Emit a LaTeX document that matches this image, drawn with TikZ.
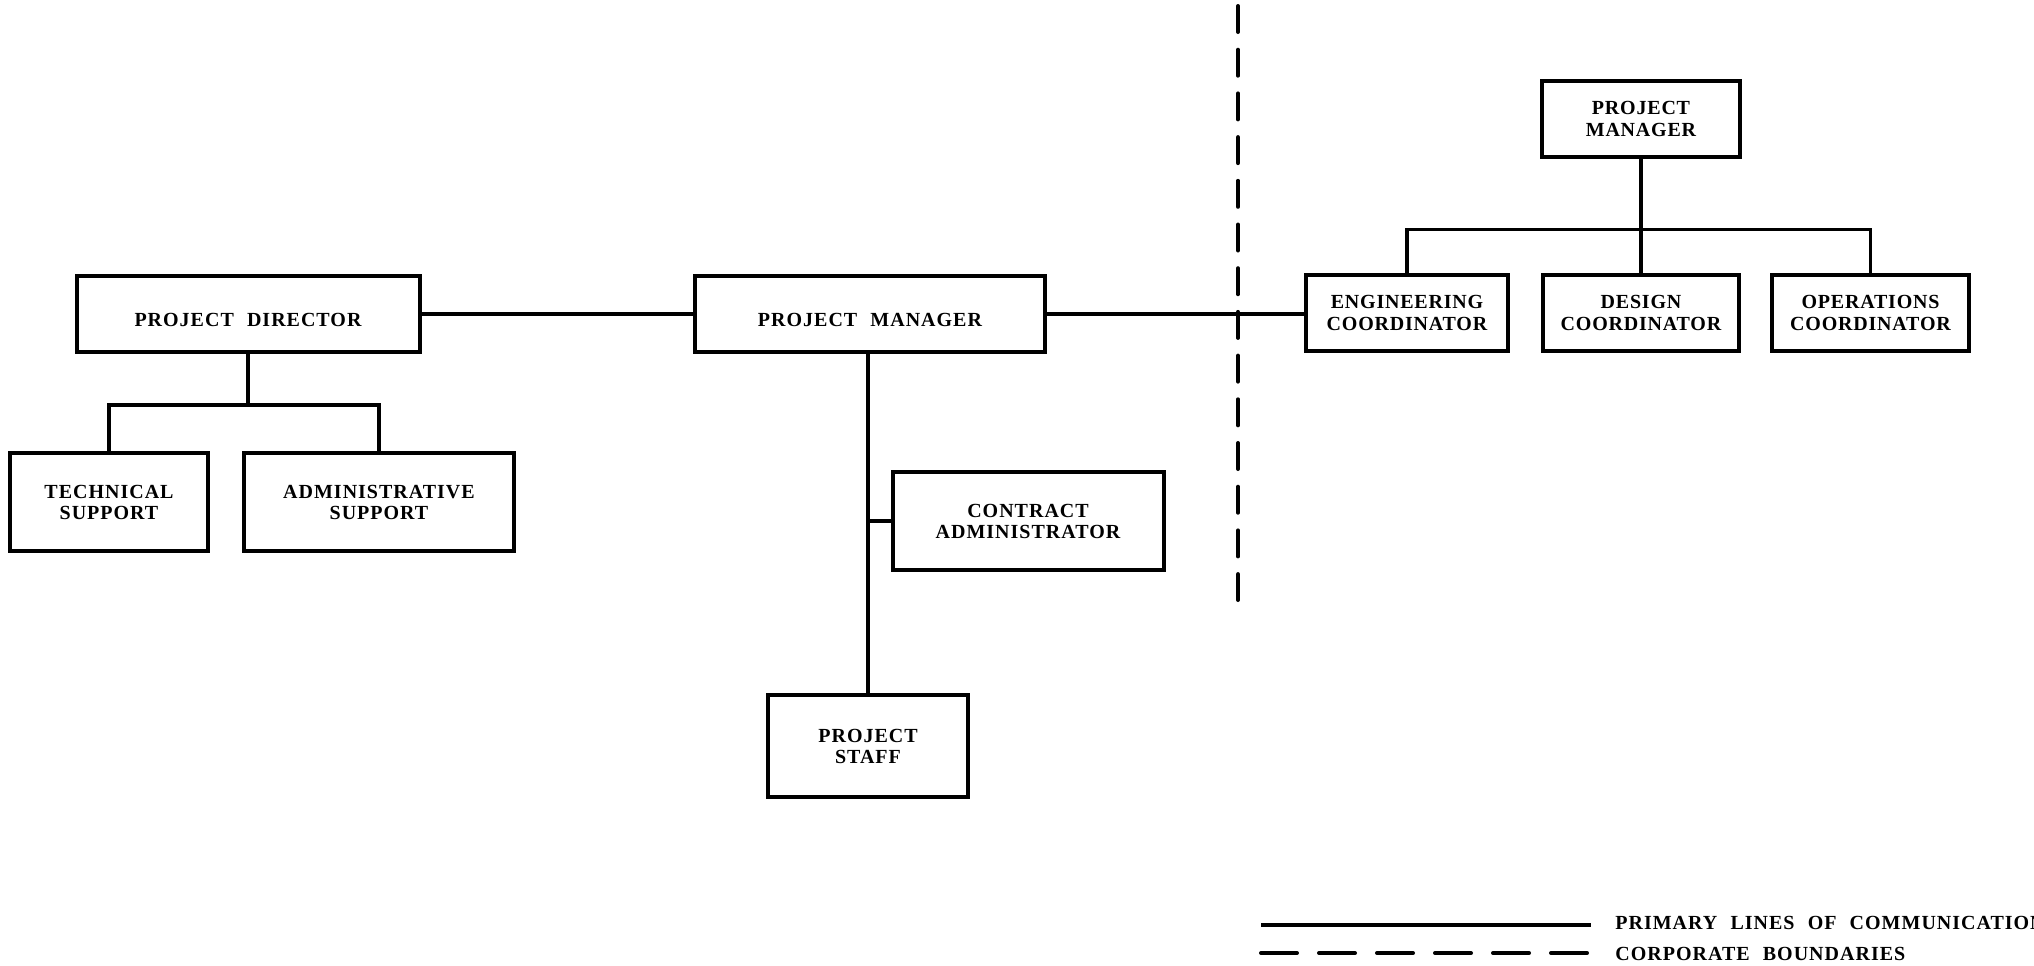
\documentclass[tikz,border=0pt]{standalone}
\usepackage{fontspec}
\setmainfont{Liberation Serif}
% wide, letter-spaced caps for the main chart; slightly tighter caps for the partner side
\newfontfamily\widefont[LetterSpace=5,WordSpace=2.2]{Liberation Serif}
\newfontfamily\tightfont[LetterSpace=4]{Liberation Serif}
\begin{document}
\begin{tikzpicture}[x=0.5pt,y=-0.5pt,
  box/.style={draw, line width=2pt, inner sep=0pt, align=center,
    font=\widefont\bfseries\fontsize{10}{10.5}\selectfont},
  onebox/.style={box, text height=12.6pt, text depth=0pt},
  rbox/.style={box, font=\tightfont\bfseries\fontsize{10}{11}\selectfont},
  link/.style={line width=1.8pt},
  boundary/.style={line width=2pt, line cap=round, dash pattern=on 13pt off 8.85pt},
  keydash/.style={line width=2pt, line cap=round, dash pattern=on 18pt off 11pt},
  keytext/.style={inner sep=0pt, anchor=base west,
    font=\widefont\bfseries\fontsize{10}{11}\selectfont}]

\fill[white] (0,0) rectangle (2034,965);
\useasboundingbox (0,0) rectangle (2034,965);

% owner organisation
\node[onebox, minimum width=171.5pt, minimum height=37.75pt] (pd) at (248,314) {PROJECT DIRECTOR};
\node[box, minimum width=98.75pt, minimum height=49pt] (ts) at (109,502) {TECHNICAL\\SUPPORT};
\node[box, minimum width=135pt, minimum height=49pt] (as) at (379,502) {ADMINISTRATIVE\\SUPPORT};
\node[onebox, minimum width=175pt, minimum height=37.75pt] (pm) at (870,314) {PROJECT MANAGER};
\node[box, minimum width=135.5pt, minimum height=48.75pt] (ca) at (1028,521) {CONTRACT\\ADMINISTRATOR};
\node[box, minimum width=100pt, minimum height=50.75pt] (ps) at (868,746) {PROJECT\\STAFF};

% contractor organisation
\node[rbox, minimum width=98.7pt, minimum height=38.3pt] (pmr) at (1641,119) {PROJECT\\MANAGER};
\node[rbox, minimum width=101pt, minimum height=38pt] (ec) at (1407,313) {ENGINEERING\\COORDINATOR};
\node[rbox, minimum width=98pt, minimum height=38pt] (dc) at (1641,313) {DESIGN\\COORDINATOR};
\node[rbox, minimum width=98.5pt, minimum height=38pt] (oc) at (1870.5,313) {OPERATIONS\\COORDINATOR};

% lines of communication
\coordinate (pdbus) at (248,405);
\coordinate (rbus) at (1641,229.6);
\draw[link] (pd.east) -- (pm.west);
\draw[link] (pm.east) -- (pm.east -| ec.west);
\draw[link] (pd.south) -- (pdbus);
\draw[link] (ts.north) |- (pdbus) -| (as.north);
\draw[link] (pm.south -| ps.north) -- (ps.north);
\draw[link] (ca.west) -- (ca.west -| ps.north);
\draw[link] (pmr.south) -- (dc.north);
\draw[link] (ec.north) |- (rbus) -| (oc.north);

% corporate boundary
\coordinate (btop) at (1238,6);
\coordinate (bbot) at (1238,600);
\draw[boundary] (btop) -- (bbot);

% key
\coordinate (k1a) at (1261,925);
\coordinate (k1b) at (1591,925);
\coordinate (k2a) at (1261,953);
\coordinate (k2b) at (1591,953);
\draw[line width=2pt] (k1a) -- (k1b);
\draw[keydash] (k2a) -- (k2b);
\node[keytext] (kt1) at (1615,929) {PRIMARY LINES OF COMMUNICATION};
\node[keytext] (kt2) at (1615,960) {CORPORATE BOUNDARIES};
\end{tikzpicture}
\end{document}
